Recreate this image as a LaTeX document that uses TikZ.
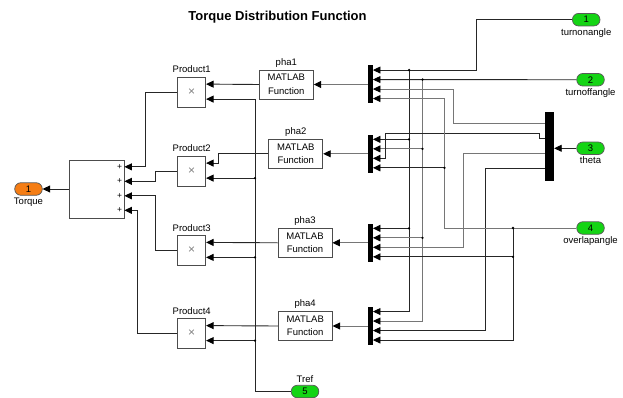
\documentclass[tikz,border=0pt]{standalone}
\usepackage{fontspec}
\setmainfont{Liberation Sans}
\usetikzlibrary{arrows.meta,calc,positioning}
\definecolor{portgreen}{RGB}{20,212,20}
\definecolor{portorange}{RGB}{245,125,20}
\definecolor{wiregray}{RGB}{118,118,118}
\tikzset{
 wire/.style={line width=.9pt,draw=black!85},
 sig/.style={wire,-{Triangle[length=7.5pt,width=7pt,color=black]}},
 graysig/.style={sig,draw=wiregray},
 blk/.style={draw=black!70,line width=.8pt,fill=white,inner sep=0,font=\fontsize{9.5}{13.5}\selectfont},
 prodblk/.style={blk,minimum width=28pt,minimum height=30pt,font=\fontsize{12}{12}\selectfont,text=gray},
 fcnblk/.style={blk,minimum width=54pt,minimum height=29pt,align=center},
 sumblk/.style={blk,minimum width=55pt,minimum height=58pt},
 muxbar/.style={fill=black,inner sep=0,minimum width=4.5pt,minimum height=38pt},
 simport/.style={draw=black!65,line width=.7pt,rounded corners=6pt,minimum width=27.5pt,minimum height=12.5pt,inner sep=0,font=\fontsize{9.5}{9.5}\selectfont},
 inport/.style={simport,fill=portgreen},
 outport/.style={simport,fill=portorange},
 lbl/.style={font=\fontsize{9.5}{10.5}\selectfont,inner sep=1pt},
 junction/.style={circle,fill=black,minimum size=2.6pt,inner sep=0}
}
\begin{document}
\begin{tikzpicture}[x=1pt,y=-1pt,label distance=2.5pt]
\path[use as bounding box] (0,0) rectangle (623,398);
\node[font=\bfseries\fontsize{13}{14}\selectfont] (title) at (277.5,17) {Torque Distribution Function};

\node[sumblk] (sum) at (96.5,189) {};
\node[outport] (torque) at (28.5,189) {1};
\node[lbl,below=1pt of torque] (torquelbl) {Torque};

\node[prodblk,label={[lbl]above:Product1}] (prod1) at (191.7,92) {×};
\node[prodblk,label={[lbl]above:Product2}] (prod2) at (191.7,171) {×};
\node[prodblk,label={[lbl]above:Product3}] (prod3) at (191.7,250.3) {×};
\node[prodblk,label={[lbl]above:Product4}] (prod4) at (191.7,333.5) {×};

\node[fcnblk,label={[lbl,label distance=1pt]above:pha1}] (fcn1) at (286.3,84.5) {MATLAB\\Function};
\node[fcnblk,label={[lbl,label distance=1pt]above:pha2}] (fcn2) at (295.8,153.8) {MATLAB\\Function};
\node[fcnblk,label={[lbl,label distance=1pt]above:pha3}] (fcn3) at (305,242.8) {MATLAB\\Function};
\node[fcnblk,label={[lbl,label distance=1pt]above:pha4}] (fcn4) at (305.2,326) {MATLAB\\Function};

\node[muxbar] (mux1) at (370.5,84.5) {};
\node[muxbar] (mux2) at (370.5,153.8) {};
\node[muxbar] (mux3) at (370.5,242.8) {};
\node[muxbar] (mux4) at (370.5,326) {};
\node[muxbar,minimum width=9pt,minimum height=69pt] (demux) at (549.5,146.3) {};

\node[inport] (on) at (586.2,19.7) {1};
\node[lbl,below=1pt of on] (onlbl) {turnonangle};
\node[inport] (off) at (590.5,79.75) {2};
\node[lbl,below=1pt of off] (offlbl) {turnoffangle};
\node[inport] (theta) at (590.5,148.3) {3};
\node[lbl,below=1pt of theta] (thetalbl) {theta};
\node[inport] (overlap) at (590.5,228) {4};
\node[lbl,below=1pt of overlap] (overlaplbl) {overlapangle};
\node[inport] (tref) at (305,391.5) {5};
\node[lbl,above=1pt of tref] (treflbl) {Tref};

\foreach \m in {1,...,4}
 \foreach \p in {1,...,4}
  \coordinate (m\m-\p) at ($(mux\m.north east)+(0,-4.75+9.5*\p)$);
\foreach \p in {1,...,4}{
 \coordinate (s\p) at ($(sum.north east)+(0,-7.25+14.5*\p)$);
 \node[lbl,font=\fontsize{8.5}{8.5}\selectfont,left=1pt of s\p] {+};
}
\foreach \i in {1,...,4}{
 \coordinate (p\i-1) at ($(prod\i.north east)+(0,7.5)$);
 \coordinate (p\i-2) at ($(prod\i.north east)+(0,22.5)$);
}
\coordinate (d1) at (545,123.3);
\coordinate (d2) at (545,138.3);
\coordinate (d3) at (545,153.3);
\coordinate (d4) at (545,168.3);
\coordinate (xonup) at (476,0);
\coordinate (xon) at (409,0);
\coordinate (xoff) at (422.5,0);
\coordinate (xov) at (444.5,0);
\coordinate (xov2) at (513,0);
\coordinate (xt1) at (453.3,0);
\coordinate (xt2) at (539.3,0);
\coordinate (xt2b) at (385,0);
\coordinate (xt3) at (463.3,0);
\coordinate (xt4) at (485.5,0);
\coordinate (yt2) at (0,133.3);
\coordinate (xref) at (255,0);
\coordinate (xc1) at (145,0);
\coordinate (xc2) at (155,0);
\coordinate (xc4) at (137,0);
\coordinate (xf2) at (218,0);

\draw[sig] (on.west) -- (xonup |- on.west) -- (xonup |- m1-1) -- (m1-1);
\draw[sig] (xon |- m1-1) -- (xon |- m4-1) -- (m4-1);
\draw[sig] (xon |- m2-1) -- (m2-1);
\draw[sig] (xon |- m3-1) -- (m3-1);
\draw[sig] (off.west) -- (m1-2);
\draw[graysig] (xoff |- m1-2) -- (xoff |- m4-2) -- (m4-2);
\draw[graysig] (xoff |- m2-2) -- (m2-2);
\draw[graysig] (xoff |- m3-2) -- (m3-2);
\draw[sig] (theta.west) -- (demux.east |- theta.west);
\draw[graysig] (d1) -- (xt1 |- d1) -- (xt1 |- m1-3) -- (m1-3);
\draw[sig] (d2) -- (xt2 |- d2) -- (xt2 |- yt2) -- (xt2b |- yt2) -- (xt2b |- m2-3) -- (m2-3);
\draw[graysig] (d3) -- (xt3 |- d3) -- (xt3 |- m3-3) -- (m3-3);
\draw[sig] (d4) -- (xt4 |- d4) -- (xt4 |- m4-3) -- (m4-3);
\draw[graysig] (overlap.west) -- (xov |- overlap.west) -- (xov |- m1-4) -- (m1-4);
\draw[sig] (xov |- m2-4) -- (m2-4);
\draw[sig] (xov2 |- overlap.west) -- (xov2 |- m4-4) -- (m4-4);
\draw[sig] (xov2 |- m3-4) -- (m3-4);

\foreach \i in {1,...,4}
 \draw[graysig] (mux\i.west) -- (fcn\i.east);
\draw[sig] (fcn1.west) -- (p1-1);
\draw[sig] (fcn2.west) -- (xf2 |- fcn2.west) -- (xf2 |- p2-1) -- (p2-1);
\draw[sig] (fcn3.west) -- (p3-1);
\draw[sig] (fcn4.west) -- (p4-1);

\draw[sig] (tref.west) -- (xref |- tref.west) -- (xref |- p1-2) -- (p1-2);
\draw[sig] (xref |- p2-2) -- (p2-2);
\draw[sig] (xref |- p3-2) -- (p3-2);
\draw[sig] (xref |- p4-2) -- (p4-2);

\draw[sig] (prod1.west) -- (xc1 |- prod1.west) -- (xc1 |- s1) -- (s1);
\draw[sig] (prod2.west) -- (xc2 |- prod2.west) -- (xc2 |- s2) -- (s2);
\draw[sig] (prod3.west) -- (xc2 |- prod3.west) -- (xc2 |- s3) -- (s3);
\draw[sig] (prod4.west) -- (xc4 |- prod4.west) -- (xc4 |- s4) -- (s4);
\draw[sig] (sum.west) -- (torque.east);

\foreach \c in {xon |- m1-1,xon |- m2-1,xon |- m3-1,xoff |- m1-2,xoff |- m2-2,xoff |- m3-2,
  xov |- m2-4,xov2 |- overlap.west,xov2 |- m3-4,xref |- p2-2,xref |- p3-2,xref |- p4-2}
 \node[junction] at (\c) {};
\end{tikzpicture}
\end{document}
